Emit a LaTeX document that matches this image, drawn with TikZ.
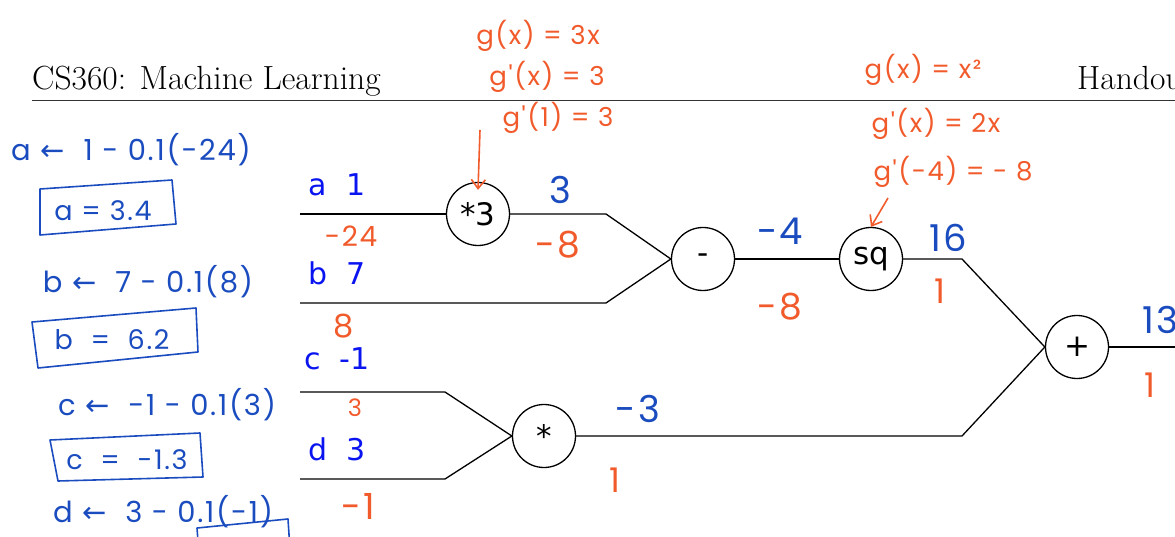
\documentclass[tikz,border=0pt]{standalone}
\usepackage{fontspec}
\usetikzlibrary{arrows.meta}
\newfontfamily\typefont{DejaVu Sans}
\newfontfamily\handfont{Poppins}[LetterSpace=6]
\newfontfamily\symfont{DejaVu Sans}
\definecolor{PenBlue}{HTML}{1A4CBF}
\definecolor{PenRed}{HTML}{F15A2B}
\definecolor{TagBlue}{HTML}{0A14F0}
\newcommand{\lar}{{\symfont ←}}

\begin{document}
\begin{tikzpicture}[x=1pt,y=-1pt,
  op/.style={circle,draw,line width=1.3pt,minimum size=63pt,inner sep=0pt,
    font=\typefont\fontsize{31}{31}\selectfont},
  wire/.style={line width=1.3pt},
  tag/.style={text=TagBlue,inner sep=0pt,font=\typefont\fontsize{30}{30}\selectfont},
  hb/.style={text=PenBlue,inner sep=0pt,font=\handfont\fontsize{#1}{#1}\selectfont},
  hb/.default=27,
  hr/.style={text=PenRed,inner sep=0pt,font=\handfont\fontsize{#1}{#1}\selectfont},
  hr/.default=26,
  penbox/.style={draw=PenBlue,line width=1.6pt,line join=round},
  penarrow/.style={draw=PenRed,line width=1.6pt,-{Straight Barb[length=9pt,width=14pt]}}]
\useasboundingbox (0,0) rectangle (1175,537);
\clip (0,0) rectangle (1175,537);

% header of the handout
\node[anchor=base west,inner sep=0pt,font=\fontsize{33.5}{33.5}\selectfont] (title) at (32,90) {CS360: Machine Learning};
\node[anchor=base west,inner sep=0pt,font=\fontsize{33.5}{33.5}\selectfont] (handout) at (1077,90) {Handout};
\draw[line width=0.9pt,black!80] (32,100) -- (1175,100);

% operation nodes
\node[op] (mul3) at (478,214) {*3};
\node[op] (sub) at (703,259) {-};
\node[op] (sq) at (871,259) {sq};
\node[op] (mul) at (544,436) {*};
\node[op] (add) at (1077,347) {+};

% inputs
\foreach \n/\v/\y/\w in {a/1/185/214, b/7/273/303, c/-1/359/392, d/3/449/479} {
  \node[tag] (tag\n) at (337,\y) {\n~~\v};
  \coordinate (in\n) at (300,\w);
}
\coordinate (ka) at (606,214);
\coordinate (kb) at (606,303);
\coordinate (kc) at (445,392);
\coordinate (kd) at (445,479);
\coordinate (ksq) at (962,259);
\coordinate (kmul) at (962,436);
\coordinate (out) at (1175,347);

\draw[wire] (ina) -- (mul3);
\draw[wire] (mul3) -- (ka) -- (sub.west);
\draw[wire] (inb) -- (kb) -- (sub.west);
\draw[wire] (sub) -- (sq);
\draw[wire] (sq) -- (ksq) -- (add.west);
\draw[wire] (inc) -- (kc) -- (mul.west);
\draw[wire] (ind) -- (kd) -- (mul.west);
\draw[wire] (mul) -- (kmul) -- (add.west);
\draw[wire] (add) -- (out);

% forward values
\node[hb=37] (fwd3) at (560,190) {3};
\node[hb=37] (fwdsub) at (780,231) {-4};
\node[hb=37] (fwdsq) at (948,238) {16};
\node[hb=37] (fwdadd) at (1160,320) {13};
\node[hb=37] (fwdmul) at (638,409) {-3};

% backward values
\node[hr=28] (gra) at (351,236) {-24};
\node[hr=36] (grmul3) at (558,245) {-8};
\node[hr=32] (grb) at (344,326) {8};
\node[hr=24] (grc) at (355,408) {3};
\node[hr=36] (grd) at (358,506) {-1};
\node[hr=36] (grsub) at (780,307) {-8};
\node[hr=34] (grsq) at (940,291) {1};
\node[hr=34] (gradd) at (1150,385) {1};
\node[hr=34] (grmul) at (615,480) {1};

% local derivatives
\node[hr] (g3a) at (538,36) {g(x) = 3x};
\node[hr] (g3b) at (547,77) {g'(x) = 3};
\node[hr] (g3c) at (558,118) {g'(1) = 3};
\coordinate (g3tip) at (480,130);
\draw[penarrow] (g3tip) -- ([yshift=-8pt]mul3.north);
\node[hr] (gsa) at (923,70) {g(x) = x²};
\node[hr] (gsb) at (936,124) {g'(x) = 2x};
\node[hr] (gsc) at (953,172) {g'(-4) = - 8};
\coordinate (gstip) at (888,198);
\draw[penarrow] (gstip) -- (sq.north);

% gradient steps
\node[hb=29] (upa) at (131,150) {a \lar{} \ 1 - 0.1(-24)};
\node[hb] (newa) at (103,211) {a = 3.4};
\draw[penbox] (40,189) -- (172,180) -- (176,224) -- (40,235) -- cycle;
\node[hb=29] (upb) at (148,282) {b \lar{} \ 7 - 0.1(8)};
\node[hb] (newb) at (112,340) {b \ = \ 6.2};
\draw[penbox] (32,322) -- (196,308) -- (198,352) -- (38,368) -- cycle;
\node[hb=29] (upc) at (167,405) {c \lar{} \ -1 - 0.1(3)};
\node[hb] (newc) at (127,460) {c \ = \ -1.3};
\draw[penbox] (50,440) -- (200,433) -- (203,477) -- (58,481) -- cycle;
\node[hb=29] (upd) at (163,512) {d \lar{} \ 3 - 0.1(-1)};
\node[hb] (newd) at (244,550) {d = 3.1};
\draw[penbox] (197,528) -- (288,519) -- (291,565) -- (200,567) -- cycle;
\end{tikzpicture}
\end{document}
